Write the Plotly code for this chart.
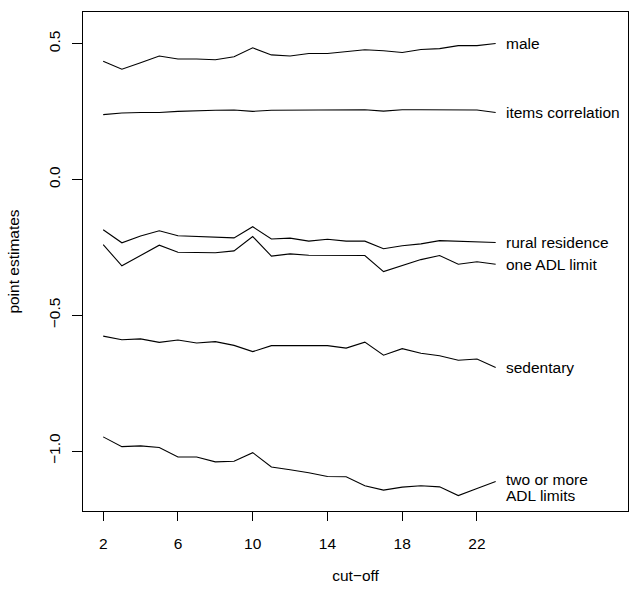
import plotly.graph_objects as go

cutoff = list(range(2, 24))

male = [0.436, 0.406, 0.430, 0.455, 0.444, 0.444, 0.441, 0.452, 0.485, 0.459, 0.455,
        0.464, 0.464, 0.471, 0.478, 0.474, 0.468, 0.479, 0.482, 0.493, 0.493, 0.501]
items_correlation = [0.239, 0.245, 0.247, 0.247, 0.251, 0.254, 0.255, 0.256, 0.251, 0.255, 0.255,
                     0.256, 0.256, 0.256, 0.257, 0.252, 0.257, 0.257, 0.257, 0.256, 0.256, 0.247]
rural_residence = [-0.185, -0.233, -0.208, -0.189, -0.207, -0.209, -0.211, -0.215, -0.174, -0.219, -0.216,
                   -0.227, -0.220, -0.227, -0.227, -0.255, -0.244, -0.237, -0.225, -0.227, -0.231, -0.232]
one_adl_limit = [-0.240, -0.318, -0.280, -0.242, -0.268, -0.270, -0.270, -0.263, -0.210, -0.282, -0.274,
                 -0.279, -0.280, -0.280, -0.280, -0.339, -0.318, -0.295, -0.280, -0.312, -0.303, -0.312]
sedentary = [-0.577, -0.590, -0.587, -0.600, -0.591, -0.602, -0.597, -0.611, -0.634, -0.612, -0.612,
             -0.612, -0.612, -0.621, -0.599, -0.647, -0.623, -0.640, -0.649, -0.666, -0.661, -0.692]
two_or_more_adl = [-0.948, -0.984, -0.981, -0.987, -1.022, -1.022, -1.040, -1.038, -1.006, -1.059, -1.069,
                   -1.080, -1.094, -1.095, -1.128, -1.144, -1.133, -1.128, -1.132, -1.164, -1.138, -1.112]

series = [
    ("male", male),
    ("items correlation", items_correlation),
    ("rural residence", rural_residence),
    ("one ADL limit", one_adl_limit),
    ("sedentary", sedentary),
    ("two or more<br>ADL limits", two_or_more_adl),
]

x_ticks = [2, 6, 10, 14, 18, 22]
y_ticks = [-1.0, -0.5, 0.0, 0.5]
y_ticktext = ["\u22121.0", "\u22120.5", "0.0", "0.5"]

FONT = "Liberation Sans, Arial, Helvetica, sans-serif"
FS = 15.5

fig = go.Figure()
annotations = []
for name, vals in series:
    fig.add_trace(go.Scatter(x=cutoff, y=vals, mode="lines",
                             line=dict(color="black", width=1.1),
                             name=name, showlegend=False, hoverinfo="skip"))
    if "<br>" in name:
        first, second = name.split("<br>")
        annotations.append(dict(x=cutoff[-1] + 0.45, y=vals[-1], text=first, xanchor="left",
                                yanchor="middle", showarrow=False, yshift=1.5,
                                font=dict(family=FONT, size=FS, color="black")))
        annotations.append(dict(x=cutoff[-1] + 0.45, y=vals[-1], text=second, xanchor="left",
                                yanchor="middle", showarrow=False, yshift=-14.5,
                                font=dict(family=FONT, size=FS, color="black")))
    else:
        annotations.append(dict(x=cutoff[-1] + 0.45, y=vals[-1], text=name, xanchor="left",
                                yanchor="middle", showarrow=False,
                                font=dict(family=FONT, size=FS, color="black")))

fig.update_layout(
    width=643, height=592,
    margin=dict(l=83, r=15, t=11, b=74),
    paper_bgcolor="white", plot_bgcolor="white",
    font=dict(family=FONT, size=FS, color="black"),
    annotations=annotations,
    xaxis=dict(range=[0.92, 30.08], tickvals=x_ticks, ticktext=[str(v) for v in x_ticks],
               ticks="outside", ticklen=9, tickwidth=1, tickcolor="black",
               showline=True, mirror=True, linecolor="black", linewidth=1,
               showgrid=False, zeroline=False, ticklabelstandoff=9,
               title=dict(text="cut\u2212off", standoff=19,
                          font=dict(family=FONT, size=FS, color="black"))),
    yaxis=dict(range=[-1.221, 0.617], tickvals=y_ticks, ticktext=y_ticktext,
               tickangle=-90,
               ticks="outside", ticklen=10, tickwidth=1, tickcolor="black",
               showline=True, mirror=True, linecolor="black", linewidth=1,
               showgrid=False, zeroline=False, ticklabelstandoff=6,
               title=dict(text="point estimates", standoff=22,
                          font=dict(family=FONT, size=FS, color="black"))),
)

fig.write_html("out.html")
